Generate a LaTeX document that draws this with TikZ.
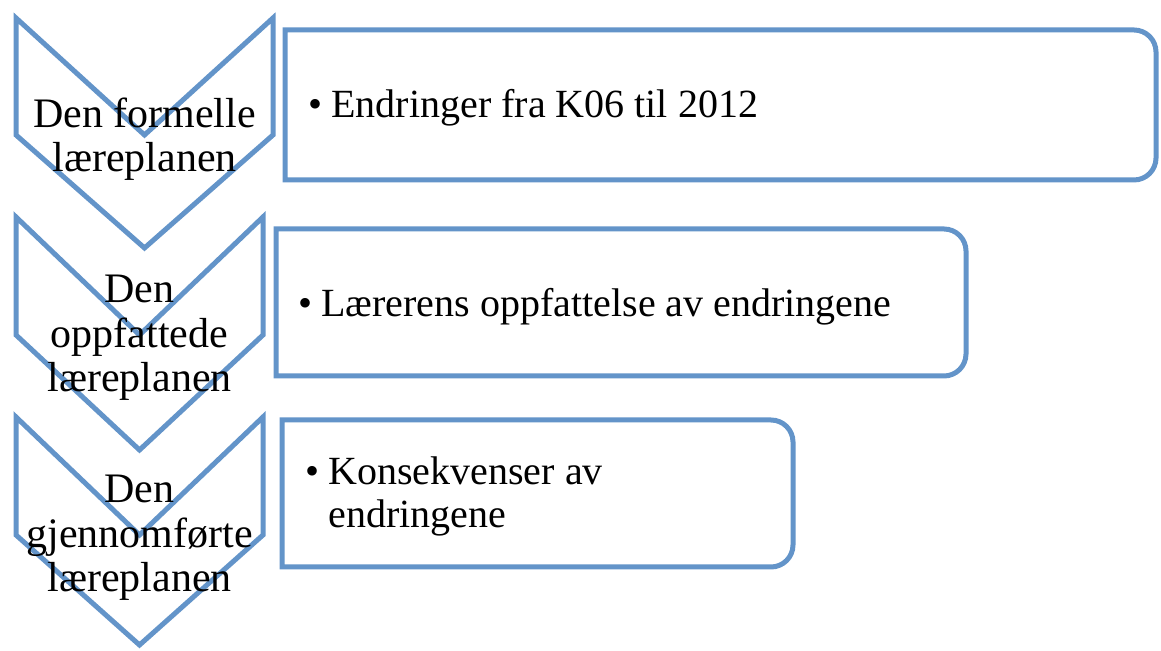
\documentclass[tikz,border=0pt]{standalone}
\usepackage{fontspec}
\setmainfont{Liberation Serif}
\usepackage{tikz}
\usetikzlibrary{positioning}

\definecolor{pilblaa}{RGB}{99,148,201}

\newcommand{\punkt}{\textbullet\hspace{4.5pt}}

\tikzset{
    pil/.style={draw=pilblaa, line width=2.5pt, fill=white},
    kasse/.style={draw=pilblaa, line width=2.5pt, fill=white},
    piltekst/.style={align=center, inner sep=0pt, font=\fontsize{21}{22.2}\selectfont},
    kassetekst/.style={align=left, inner sep=0pt, anchor=base west, font=\fontsize{20}{21.5}\selectfont}
}

\begin{document}
\begin{tikzpicture}[x=0.5pt, y=0.5pt]
    \useasboundingbox (0,0) rectangle (1161,651);

    % Kasser
    \draw[kasse] (285,621) -- (1134,621) arc[start angle=90, end angle=0, radius=22]
        -- (1156,493) arc[start angle=0, end angle=-90, radius=22] -- (285,471) -- cycle;
    \draw[kasse] (276,422) -- (944,422) arc[start angle=90, end angle=0, radius=22]
        -- (966,297) arc[start angle=0, end angle=-90, radius=22] -- (276,275) -- cycle;
    \draw[kasse] (282,231) -- (771,231) arc[start angle=90, end angle=0, radius=22]
        -- (793,106) arc[start angle=0, end angle=-90, radius=22] -- (282,84) -- cycle;

    % Piler
    \draw[pil] (16,633) -- (144.5,516) -- (273,633) -- (273,516) -- (144.5,403) -- (16,516) -- cycle;
    \draw[pil] (16,434) -- (139.5,316) -- (263,434) -- (263,316) -- (139.5,201) -- (16,316) -- cycle;
    \draw[pil] (16,234) -- (139.5,116) -- (263,234) -- (263,116) -- (139.5,6) -- (16,116) -- cycle;

    % Tekst i pilene
    \node[piltekst] (formell) at (144.5,512) {Den formelle\\læreplanen};
    \node[piltekst] (oppfattet) at (139.5,313) {Den\\oppfattede\\læreplanen};
    \node[piltekst] (gjennomfort) at (139.5,113) {Den\\gjennomførte\\læreplanen};

    % Tekst i kassene
    \node[kassetekst] (endringer) at (308,533) {\punkt Endringer fra K06 til 2012};
    \node[kassetekst] (oppfatning) at (298,334) {\punkt Lærerens oppfattelse av endringene};
    \node[kassetekst] (konsekvenser) at (305,123) {\punkt Konsekvenser av\\\phantom{\punkt}endringene};
\end{tikzpicture}
\end{document}
